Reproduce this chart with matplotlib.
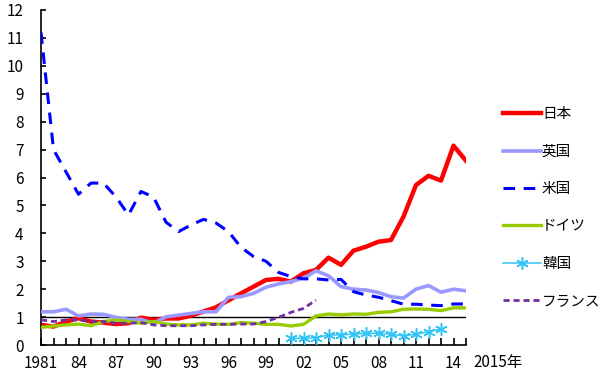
import numpy as np
import matplotlib
matplotlib.use("Agg")
import matplotlib.pyplot as plt
from matplotlib import transforms

plt.rcParams['font.family'] = ['Noto Sans CJK JP', 'DejaVu Sans']

years = list(range(1981, 2016))

japan = [0.72, 0.66, 0.84, 0.96, 0.84, 0.80, 0.75, 0.78, 0.98, 0.90,
         0.95, 0.95, 1.05, 1.20, 1.35, 1.60, 1.85, 2.09, 2.33, 2.37,
         2.27, 2.57, 2.69, 3.13, 2.87, 3.38, 3.52, 3.70, 3.76, 4.60,
         5.73, 6.06, 5.89, 7.14, 6.60]
uk = [1.19, 1.19, 1.28, 1.04, 1.11, 1.10, 0.99, 0.92, 0.92, 0.78,
      1.01, 1.07, 1.13, 1.19, 1.19, 1.71, 1.73, 1.85, 2.07, 2.19,
      2.27, 2.39, 2.66, 2.48, 2.09, 2.00, 1.97, 1.88, 1.73, 1.68,
      2.00, 2.13, 1.89, 2.00, 1.94]
us = [11.2, 7.0, 6.2, 5.4, 5.8, 5.8, 5.3, 4.66, 5.5, 5.3,
      4.4, 4.06, 4.3, 4.5, 4.37, 4.06, 3.5, 3.17, 3.0, 2.6,
      2.45, 2.37, 2.37, 2.33, 2.35, 1.91, 1.79, 1.71, 1.59, 1.46,
      1.46, 1.43, 1.41, 1.47, 1.47]
germany = [0.63, 0.68, 0.72, 0.75, 0.69, 0.84, 0.90, 0.84, 0.78, 0.84,
           0.75, 0.72, 0.72, 0.78, 0.75, 0.74, 0.80, 0.78, 0.74, 0.74,
           0.68, 0.74, 1.04, 1.11, 1.08, 1.11, 1.10, 1.17, 1.19, 1.28,
           1.29, 1.28, 1.23, 1.33, 1.33]
korea_years = list(range(2001, 2014))
korea = [0.24, 0.24, 0.26, 0.36, 0.36, 0.39, 0.42, 0.42, 0.39, 0.32,
         0.39, 0.48, 0.57]
france_years = list(range(1981, 2004))
france = [0.90, 0.84, 0.90, 0.90, 0.84, 0.84, 0.78, 0.78, 0.80, 0.72,
          0.69, 0.69, 0.69, 0.72, 0.74, 0.74, 0.75, 0.75, 0.84, 0.99,
          1.17, 1.31, 1.61]

tick_years = list(range(1981, 2015, 3))
tick_labels = ['1981'] + ['%02d' % (y % 100) for y in tick_years[1:]]

fig = plt.figure(figsize=(6, 3.79), dpi=100)
ax = fig.add_axes([41 / 600, 34 / 379, 425 / 600, 335 / 379])

ax.axhline(1, color='black', lw=1.0, zorder=1)

ax.plot(years, japan, color='#ff0000', lw=3.2, label='日本', zorder=2)
ax.plot(years, uk, color='#9999ff', lw=2.6, label='英国', zorder=3)
ax.plot(years, us, color='#0000ff', lw=2.2, dashes=(3.8, 2.8), label='米国', zorder=4)
ax.plot(years, germany, color='#99cc00', lw=2.4, label='ドイツ', zorder=5)
ax.plot(korea_years, korea, color='#33c4f4', lw=1.1, marker=(6, 2, 0), ms=9,
        mew=1.1, label='韓国', zorder=6)
ax.plot(france_years, france, color='#7030a0', lw=2.0, dashes=(2.2, 1.4), label='フランス', zorder=7)

ax.set_xlim(1981, 2015)
ax.set_ylim(0, 12)
ax.set_yticks(range(0, 13))
ax.set_xticks(range(1981, 2016))
ax.set_xticklabels([tick_labels[tick_years.index(y)] if y in tick_years else '' for y in range(1981, 2016)])
for s in ['top', 'right']:
    ax.spines[s].set_visible(False)
ax.spines['left'].set_linewidth(1.2)
ax.spines['bottom'].set_linewidth(1.2)
ax.tick_params(axis='both', direction='in', labelsize=11, width=1.2)
ax.tick_params(axis='y', length=3.5, pad=12.5)
ax.tick_params(axis='x', length=5, pad=7)

trans = transforms.blended_transform_factory(ax.transData, ax.transAxes)
ax.text(2015.6, -0.053, '2015年', transform=trans, ha='left', va='center', fontsize=11)

ax.legend(loc='upper left', bbox_to_anchor=(496 / 600, 1 - 100 / 379),
          bbox_transform=fig.transFigure, frameon=False, fontsize=10.5,
          handlelength=2.6, handletextpad=0.05, labelspacing=1.6,
          numpoints=1, borderpad=0)

fig.savefig('out.png', dpi=100)
